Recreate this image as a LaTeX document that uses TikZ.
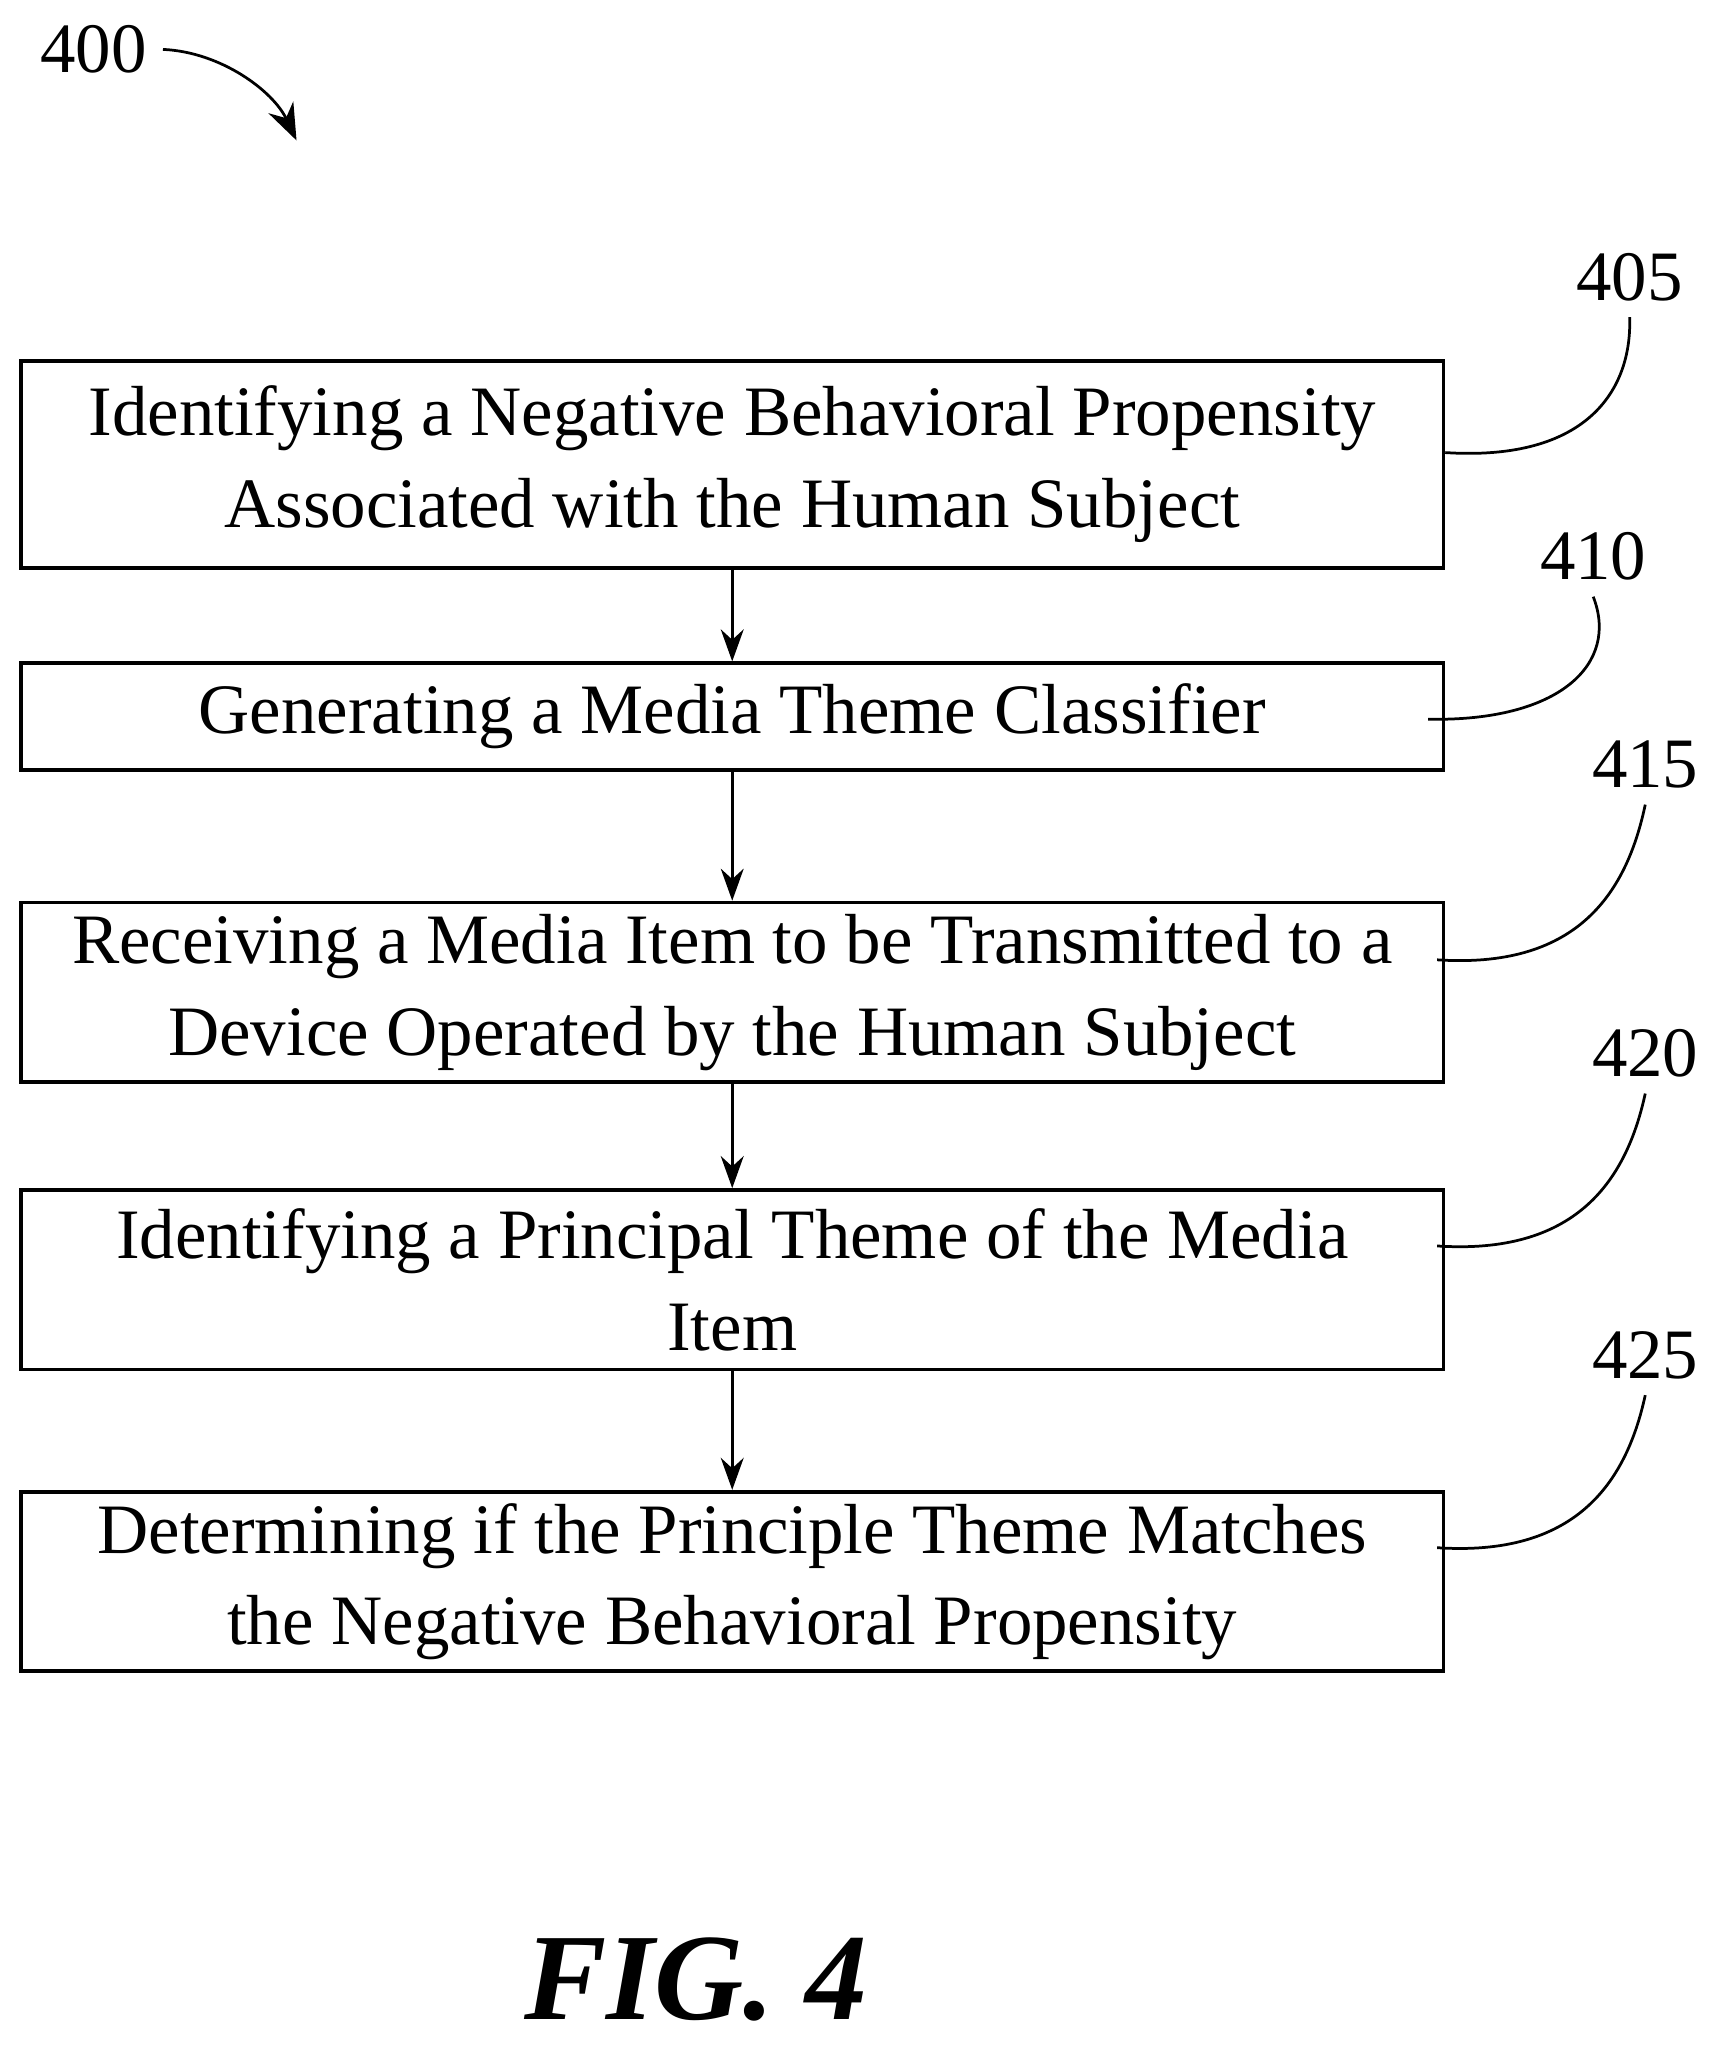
\documentclass[tikz,border=0pt]{standalone}
\usepackage{fontspec}
\setmainfont{Liberation Serif}
\usetikzlibrary{positioning,arrows.meta}

\begin{document}
\begin{tikzpicture}[x=0.01cm,y=-0.01cm,
	stepbox/.style={draw, thick, minimum width=10.93cm, align=center, font=\fontsize{15.5}{20}\selectfont, inner sep=0pt},
	flow/.style={-{Stealth[length=7pt,width=5pt]}, semithick},
	tag/.style={font=\fontsize{15.5}{18}\selectfont},
	lead/.style={semithick}]
	\useasboundingbox (0,0) rectangle (1330,1577);

	% steps
	\node[stepbox, minimum height=1.59cm] (s405) at (563,357) {Identifying a Negative Behavioral Propensity\\Associated with the Human Subject};
	\node[stepbox, minimum height=0.82cm] (s410) at (563,551) {Generating a Media Theme Classifier};
	\node[stepbox, minimum height=1.38cm] (s415) at (563,763) {Receiving a Media Item to be Transmitted to a\\Device Operated by the Human Subject};
	\node[stepbox, minimum height=1.38cm] (s420) at (563,984) {Identifying a Principal Theme of the Media\\Item};
	\node[stepbox, minimum height=1.38cm] (s425) at (563,1216) {Determining if the Principle Theme Matches\\the Negative Behavioral Propensity};

	\draw[flow] (s405) -- (s410);
	\draw[flow] (s410) -- (s415);
	\draw[flow] (s415) -- (s420);
	\draw[flow] (s420) -- (s425);

	% reference numerals
	\node[tag] (n400) at (72,38) {400};
	\node[tag] (n405) at (1253,213) {405};
	\node[tag] (n410) at (1225,428) {410};
	\node[tag] (n415) at (1265,588) {415};
	\node[tag] (n420) at (1265,810) {420};
	\node[tag] (n425) at (1265,1042) {425};

	\coordinate (e400) at (228,108);
	\draw[lead, -{Stealth[length=8pt,width=6pt]}] (n400.east) .. controls (170,40) and (210,70) .. (e400);
	\draw[lead] (s405.east |- 0,348) .. controls (1220,355) and (1255,300) .. (n405.south);
	\draw[lead] (1098,553) .. controls (1200,555) and (1245,510) .. (n410.south);
	\draw[lead] (1105,738) .. controls (1210,745) and (1250,690) .. (n415.south);
	\draw[lead] (1105,958) .. controls (1210,965) and (1250,910) .. (n420.south);
	\draw[lead] (1105,1190) .. controls (1210,1197) and (1250,1142) .. (n425.south);

	\node[font=\fontsize{27}{30}\selectfont\bfseries\itshape] (fig) at (535,1522) {FIG. 4};
\end{tikzpicture}
\end{document}
